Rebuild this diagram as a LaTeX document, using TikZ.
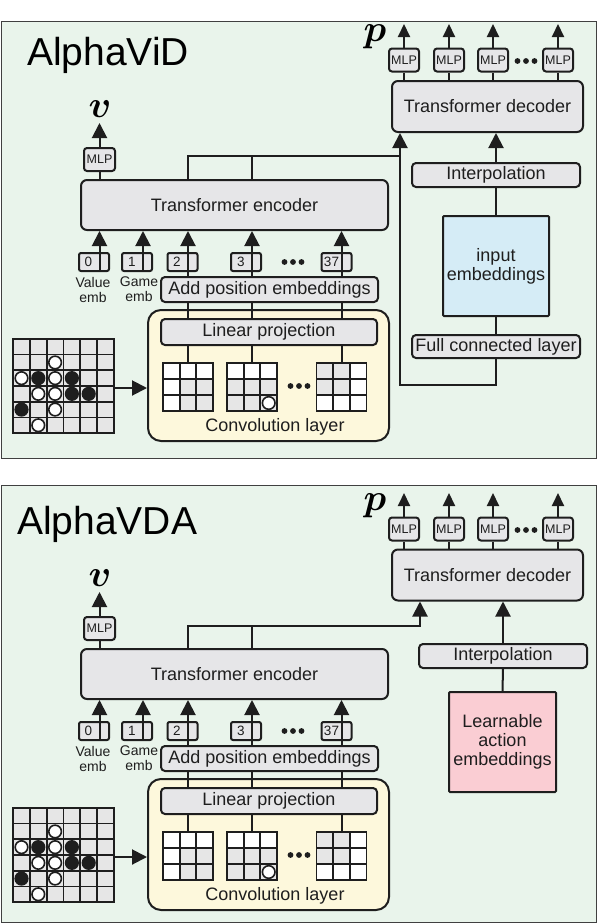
\RequirePackage{fix-cm}
\documentclass[tikz,border=0pt]{standalone}
\usepackage{fontspec}
\setmainfont{Liberation Sans}
\usepackage{amsmath}
\usepackage{bm}
\usetikzlibrary{arrows.meta,calc}
\definecolor{panelbg}{RGB}{233,244,235}
\definecolor{boxgray}{RGB}{230,230,232}
\definecolor{convbg}{RGB}{253,248,220}
\definecolor{embblue}{RGB}{213,236,246}
\definecolor{embpink}{RGB}{250,205,211}
\definecolor{ink}{RGB}{30,30,30}
\definecolor{cellgray}{RGB}{230,230,230}
\tikzset{
  panel/.style={draw=ink!85, line width=0.9pt, fill=panelbg, inner sep=0pt},
  gbox/.style={draw=ink, line width=2pt, fill=boxgray, rounded corners=4pt, inner sep=0pt, text=ink, font=\fontsize{18}{19}\selectfont, align=center},
  mlpbox/.style={gbox, minimum width=30pt, minimum height=23pt, font=\fontsize{12.5}{13}\selectfont, rounded corners=3pt},
  tokbox/.style={gbox, minimum width=30pt, minimum height=18pt, rounded corners=2pt},
  toknum/.style={inner sep=0pt, text=ink, font=\fontsize{13.5}{14}\selectfont},
  small/.style={inner sep=0pt, text=ink, font=\fontsize{14}{15}\selectfont, align=center},
  lbl/.style={inner sep=0pt, text=ink, font=\fontsize{18}{19}\selectfont, align=center},
  vlab/.style={inner sep=0pt, text=black, font=\fontsize{29}{30}\selectfont},
  title/.style={inner sep=0pt, text=black, font=\fontsize{39}{40}\selectfont},
  conn/.style={draw=ink, line width=2pt},
  arr/.style={conn, -{Triangle[width=15pt,length=15pt]}},
  sarr/.style={conn, -{Triangle[width=12pt,length=13pt]}},
  kern/.style={minimum width=50pt, minimum height=48pt, inner sep=0pt},
  cellline/.style={draw=ink, line width=1.7pt},
}
\newcommand\biglab[1]{\scalebox{1.3}{$\bm{#1}$}}
% kernel cells: #1 x0, #2 y0, #3 list of 9 colours
\newcommand\kernelcells[3]{%
  \foreach \c [count=\i from 0] in {#3} {
    \pgfmathsetmacro\cx{#1+mod(\i,3)*50/3}
    \pgfmathsetmacro\cy{#2+floor(\i/3)*16}
    \filldraw[fill=\c, cellline] (\cx,\cy) rectangle ++({50/3},16);
  }}
\newcommand\wstoneat[2]{\filldraw[fill=white, draw=ink, line width=1.6pt] ({13.1+(#1-0.5)*16.8},{338.9+(#2-0.5)*15.7}) circle (6.3);}
\newcommand\bstoneat[2]{\fill[ink] ({13.1+(#1-0.5)*16.8},{338.9+(#2-0.5)*15.7}) circle (7.1);}
\newcommand\leftpart[1]{%
  \node[gbox, minimum width=307pt, minimum height=50pt, rounded corners=6pt] (enc#1) at (234.5,205) {Transformer encoder};
  \node[mlpbox, minimum width=31pt] (mlpv#1) at (99.5,159.5) {MLP};
  \coordinate (vtip#1) at (99.5,123);
  \node[vlab] (v#1) at (100,109) {\biglab{v}};
  \draw[conn] (mlpv#1.south) -- (mlpv#1.south |- enc#1.north);
  \draw[arr] (mlpv#1.north) -- (vtip#1);
  % convolution block
  \node[gbox, fill=convbg, minimum width=241pt, minimum height=131pt, rounded corners=13pt] (conv#1) at (268.5,375.5) {};
  \node[lbl] (convlab#1) at (275,427) {Convolution layer};
  \node[gbox, minimum width=216pt, minimum height=26pt] (lin#1) at (269,332) {Linear projection};
  \node[gbox, minimum width=217pt, minimum height=25pt] (add#1) at (269.5,289.5) {Add position embeddings};
  \node[kern] (k1#1) at (188,387) {};
  \node[kern] (k2#1) at (252,387) {};
  \node[kern] (k3#1) at (341.5,387) {};
  \kernelcells{163}{363}{white,white,white,white,cellgray,cellgray,white,cellgray,cellgray}
  \kernelcells{227}{363}{white,white,white,cellgray,cellgray,cellgray,cellgray,cellgray,cellgray}
  \kernelcells{316.5}{363}{cellgray,cellgray,white,cellgray,cellgray,white,white,white,white}
  \filldraw[fill=white, draw=ink, line width=1.6pt] (268.7,403) circle (6.3);
  \foreach \x in {290.5,299,307.5} \fill[ink] (\x,386) circle (2.9);
  \foreach \k in {k1#1,k2#1,k3#1} {
    \draw[conn] (\k.north) -- (\k.north |- lin#1.south);
    \draw[conn] (\k.north |- lin#1.north) -- (\k.north |- add#1.south);
  }
  % board
  \node[draw=ink, line width=2pt, fill=cellgray, minimum width=100.8pt, minimum height=94.2pt, inner sep=0pt] (board#1) at (63.5,386) {};
  \foreach \i in {1,...,5} {
    \draw[cellline] ({13.1+\i*16.8},338.9) -- ++(0,94.2);
    \draw[cellline] (13.1,{338.9+\i*15.7}) -- ++(100.8,0);
  }
  \wstoneat{3}{2}\wstoneat{1}{3}\wstoneat{3}{3}\wstoneat{2}{4}\wstoneat{3}{4}\wstoneat{3}{5}\wstoneat{2}{6}
  \bstoneat{2}{3}\bstoneat{4}{3}\bstoneat{4}{4}\bstoneat{5}{4}\bstoneat{1}{5}
  \draw[arr] (board#1.east |- 0,388) -- (conv#1.west |- 0,388);
  % tokens
  \node[tokbox] (tok0#1) at (94,262) {};
  \node[tokbox] (tok1#1) at (137,262) {};
  \node[tokbox] (tok2#1) at (182.5,262) {};
  \node[tokbox] (tok3#1) at (246,262) {};
  \node[tokbox] (tok37#1) at (336.5,262) {};
  \node[toknum] (n0#1) at (88.5,262) {0};
  \node[toknum] (n1#1) at (132,262) {1};
  \node[toknum] (n2#1) at (177,262) {2};
  \node[toknum] (n3#1) at (241,262) {3};
  \node[toknum] (n37#1) at (331.5,262) {37};
  \foreach \x in {284.5,293,301.5} \fill[ink] (\x,262) circle (2.9);
  \coordinate (s0#1) at (99.5,271);
  \coordinate (s1#1) at (143,271);
  \draw[arr] (s0#1) -- (s0#1 |- enc#1.south);
  \draw[arr] (s1#1) -- (s1#1 |- enc#1.south);
  \foreach \k in {k1#1,k2#1,k3#1}
    \draw[arr] (\k.north |- add#1.north) -- (\k.north |- enc#1.south);
  \node[small] (vemb#1) at (93,289.5) {Value\\emb};
  \node[small] (gemb#1) at (139,289.5) {Game\\emb};
}
\begin{document}
\begin{tikzpicture}[x=1pt,y=-1pt]
\useasboundingbox (0,0) rectangle (598,924);
\fill[white] (0,0) rectangle (598,924);
% ---------------- panel A ----------------
\node[panel, minimum width=595.5pt, minimum height=437pt] (panelA) at (298.75,239.5) {};
\node[title, anchor=base west] (titleA) at (27,65) {AlphaViD};
\leftpart{A}
\node[gbox, minimum width=191pt, minimum height=51pt, rounded corners=6pt] (decA) at (487.5,106.5) {Transformer decoder};
\foreach \x/\n in {404/1,449/2,493/3,558/4} {
  \node[mlpbox] (mlpA\n) at (\x,60) {MLP};
  \coordinate (ptipA\n) at (\x,24);
  \draw[conn] (mlpA\n.south |- decA.north) -- (mlpA\n.south);
  \draw[sarr] (mlpA\n.north) -- (ptipA\n);
}
\foreach \x in {517.5,526,534.5} \fill[ink] (\x,61) circle (2.9);
\node[vlab] (pA) at (375,37) {\biglab{p}};
\node[gbox, minimum width=168pt, minimum height=24pt] (interpA) at (496,175) {Interpolation};
\node[gbox, fill=embblue, rounded corners=1pt, minimum width=106pt, minimum height=100pt] (embA) at (496,266) {input\\embeddings};
\node[gbox, minimum width=168pt, minimum height=23pt] (fcA) at (496,346.5) {Full connected layer};
\draw[conn] (embA.north) -- (interpA.south);
\draw[conn] (embA.south) -- (fcA.north);
\draw[arr] (interpA.north) -- (interpA.north |- decA.south);
\coordinate (loopA) at (400,385);
\coordinate (joinA) at (400,156);
\draw[arr] (fcA.south) |- (loopA) -- (loopA |- decA.south);
\draw[conn] (k1A |- encA.north) |- (joinA);
\draw[conn] (k2A |- encA.north) -- (k2A |- joinA);
% ---------------- panel B ----------------
\node[panel, minimum width=595.5pt, minimum height=437pt] (panelB) at (298.75,703.5) {};
\node[title, anchor=base west] (titleB) at (17,534) {AlphaVDA};
\begin{scope}[yshift=-469pt]
\leftpart{B}
\end{scope}
\node[gbox, minimum width=191pt, minimum height=51pt, rounded corners=6pt] (decB) at (487.5,575) {Transformer decoder};
\foreach \x/\n in {404/1,449/2,493/3,558/4} {
  \node[mlpbox] (mlpB\n) at (\x,529) {MLP};
  \coordinate (ptipB\n) at (\x,493);
  \draw[conn] (mlpB\n.south |- decB.north) -- (mlpB\n.south);
  \draw[sarr] (mlpB\n.north) -- (ptipB\n);
}
\foreach \x in {517.5,526,534.5} \fill[ink] (\x,530) circle (2.9);
\node[vlab] (pB) at (375,506) {\biglab{p}};
\node[gbox, minimum width=168pt, minimum height=24pt] (interpB) at (503,656) {Interpolation};
\node[gbox, fill=embpink, rounded corners=1pt, minimum width=107pt, minimum height=100pt] (learnB) at (502.5,742) {Learnable\\action\\embeddings};
\draw[conn] (learnB.north) -- (interpB.south);
\draw[arr] (interpB.north) -- (interpB.north |- decB.south);
\coordinate (joinB) at (420,626);
\draw[arr] (k1B |- encB.north) |- (joinB) -- (joinB |- decB.south);
\draw[conn] (k2B |- encB.north) -- (k2B |- joinB);
\end{tikzpicture}
\end{document}
